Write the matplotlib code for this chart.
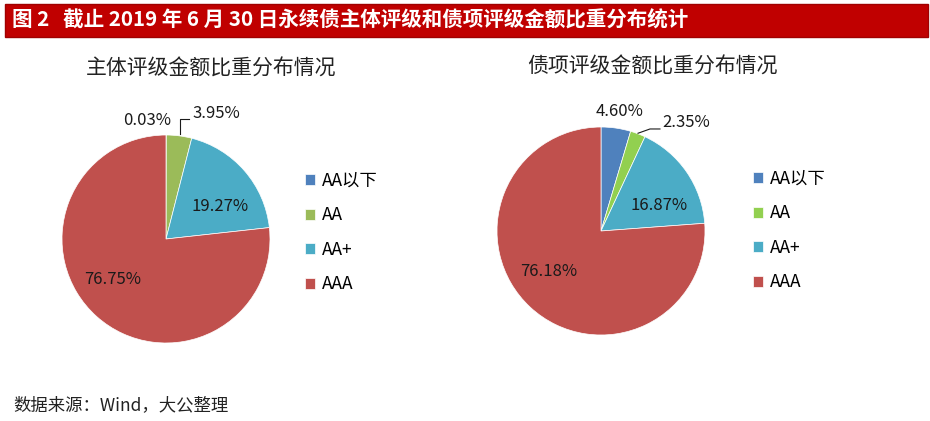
import matplotlib
matplotlib.use("Agg")
import matplotlib.pyplot as plt
from matplotlib.patches import Rectangle

plt.rcParams['font.family'] = ['Noto Sans CJK SC', 'DejaVu Sans']

categories = ['AA以下', 'AA', 'AA+', 'AAA']
issuer_values = [0.03, 3.95, 19.27, 76.75]
bond_values = [4.60, 2.35, 16.87, 76.18]
issuer_labels = ['0.03%', '3.95%', '19.27%', '76.75%']
bond_labels = ['4.60%', '2.35%', '16.87%', '76.18%']
issuer_colors = ['#4F81BD', '#9BBB59', '#4BACC6', '#C0504D']
bond_colors = ['#4F81BD', '#92D050', '#4BACC6', '#C0504D']

W, H = 930, 421
fig = plt.figure(figsize=(W / 100, H / 100), dpi=100)

# header bar
fig.patches.append(Rectangle((5 / W, 1 - 37 / H), 923 / W, 33 / H,
                             transform=fig.transFigure, facecolor='#C00000',
                             edgecolor='#A00000', linewidth=1))
fig.text(12 / W, 1 - 20 / H,
         '图 2   截止 2019 年 6 月 30 日永续债主体评级和债项评级金额比重分布统计',
         color='white', fontsize=14.8, fontweight='bold', va='center', ha='left')


def draw_pie(cx, cy, r, values, colors, labels, label_pos, label_ha, leader,
             title, title_xy, legend_xy):
    ax = fig.add_axes([(cx - r) / W, (H - cy - r) / H, 2 * r / W, 2 * r / H])
    wedges, _ = ax.pie(values, colors=colors, startangle=90, counterclock=False,
                       radius=1, wedgeprops=dict(edgecolor='white', linewidth=0.5))
    ax.set_xlim(-1, 1)
    ax.set_ylim(-1, 1)
    ax.axis('off')
    for lab, (x, y), ha in zip(labels, label_pos, label_ha):
        ax.text(x, y, lab, fontsize=12, color='#1a1a1a', ha=ha, va='center',
                clip_on=False)
    xs, ys = zip(*leader)
    ax.plot(xs, ys, color='#1a1a1a', lw=0.8, clip_on=False)
    fig.text(title_xy[0] / W, 1 - title_xy[1] / H, title, fontsize=15,
             color='#222222', ha='center', va='center')
    fig.legend(wedges, categories, loc='upper left',
               bbox_to_anchor=(legend_xy[0] / W, 1 - legend_xy[1] / H),
               frameon=False, fontsize=12.5, handlelength=0.6, handleheight=0.6,
               handletextpad=0.35, labelspacing=0.95, borderpad=0, borderaxespad=0)


draw_pie(166, 239, 104, issuer_values, issuer_colors, issuer_labels,
         [(-0.18, 1.14), (0.25, 1.21), (0.524, 0.317), (-0.514, -0.385)],
         ['center', 'left', 'center', 'center'],
         [(0.135, 1.01), (0.135, 1.154), (0.22, 1.154)],
         '主体评级金额比重分布情况', (211, 69), (305, 172))

draw_pie(601, 231, 104, bond_values, bond_colors, bond_labels,
         [(0.178, 1.147), (0.59, 1.04), (0.5625, 0.25), (-0.505, -0.385)],
         ['center', 'left', 'center', 'center'],
         [(0.356, 0.94), (0.471, 0.981), (0.567, 0.981)],
         '债项评级金额比重分布情况', (652, 67), (753, 170))

fig.text(13 / W, 1 - 405 / H, '数据来源：Wind，大公整理', fontsize=12.5,
         color='#222222', ha='left', va='center', style='italic')

fig.savefig('out.png', dpi=100)
